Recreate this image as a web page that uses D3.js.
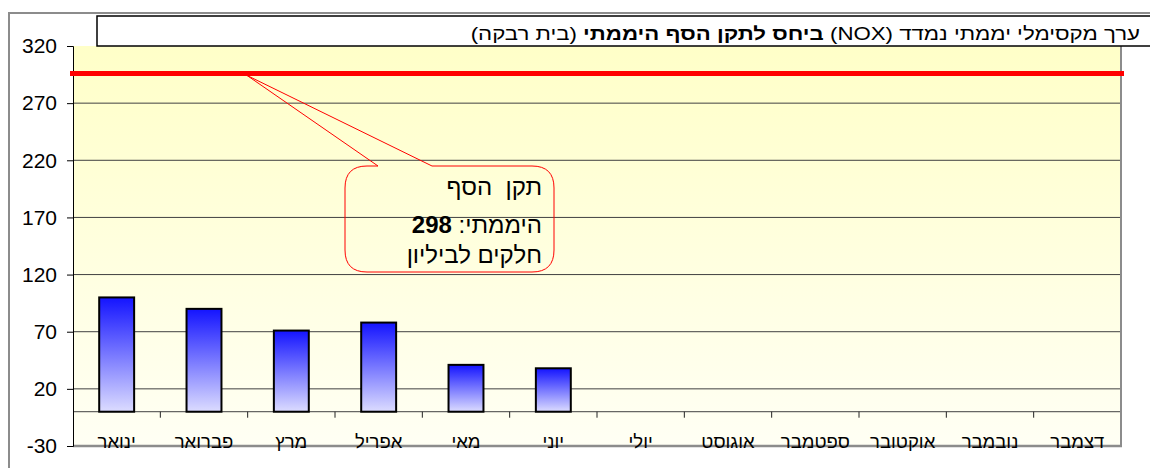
<!DOCTYPE html>
<html lang="he">
<head>
<meta charset="utf-8">
<title>NOX</title>
<script src="https://cdn.jsdelivr.net/npm/d3@7"></script>
<style>
  body { margin: 0; background: #fff; }
  svg { font-family: Arial, "Liberation Sans", sans-serif; }
</style>
</head>
<body>
<svg id="chart" width="1150" height="468"></svg>
<script>
// data
var months = ["ינואר", "פברואר", "מרץ", "אפריל", "מאי", "יוני", "יולי", "אוגוסט", "ספטמבר", "אוקטובר", "נובמבר", "דצמבר"];
var maxValues = [100, 90, 71, 78, 41, 38, null, null, null, null, null, null];
var yTicks = [-30, 20, 70, 120, 170, 220, 270, 320];
var standardValue = 296;   // line as drawn; callout says 298
var calloutLines = ["תקן  הסף", "היממתי: ", "חלקים לביליון"];

var svg = d3.select("#chart");
// plot box (note: "top" is reserved on window, so use pTop etc.)
var pLeft = 73, pRight = 1121, pTop = 46, pBottom = 446;

var x = d3.scaleBand().domain(months).range([pLeft, pRight]).paddingInner(0.6).paddingOuter(0.3);
var xEdge = d3.scaleLinear().domain([0, months.length]).range([pLeft, pRight]);
var y = d3.scaleLinear().domain([-30, 320]).range([pBottom, pTop]);

var defs = svg.append("defs");
var bg = defs.append("linearGradient").attr("id", "bg").attr("x1", 0).attr("y1", 0).attr("x2", 0).attr("y2", 1);
bg.append("stop").attr("offset", "0%").attr("stop-color", "#ffffc8");
bg.append("stop").attr("offset", "100%").attr("stop-color", "#fffff4");
var bar = defs.append("linearGradient").attr("id", "bar").attr("x1", 0).attr("y1", 0).attr("x2", 0).attr("y2", 1);
bar.append("stop").attr("offset", "0%").attr("stop-color", "#1414ff");
bar.append("stop").attr("offset", "100%").attr("stop-color", "#dcdcff");

// outer frame
svg.append("rect").attr("x", 9).attr("y", 13).attr("width", 1160).attr("height", 480)
  .attr("fill", "#fff").attr("stroke", "#8c8c8c").attr("stroke-width", 2);

// plot area
svg.append("rect").attr("x", pLeft).attr("y", pTop).attr("width", pRight - pLeft).attr("height", pBottom - pTop)
  .attr("fill", "url(#bg)");

// gridlines
svg.append("g").selectAll("line").data(yTicks.filter(function (d) { return d > -30 && d < 320; }))
  .join("line")
  .attr("x1", pLeft).attr("x2", pRight)
  .attr("y1", function (d) { return y(d); }).attr("y2", function (d) { return y(d); })
  .attr("stroke", "#404040").attr("stroke-width", 1);

// category axis at zero
svg.append("line").attr("x1", pLeft).attr("x2", pRight).attr("y1", y(0)).attr("y2", y(0))
  .attr("stroke", "#404040").attr("stroke-width", 1);
svg.append("g").selectAll("line").data(d3.range(1, months.length + 1)).join("line")
  .attr("x1", function (d) { return xEdge(d); }).attr("x2", function (d) { return xEdge(d); })
  .attr("y1", y(0)).attr("y2", y(0) + 6)
  .attr("stroke", "#222").attr("stroke-width", 1);

// plot border right / bottom
svg.append("line").attr("x1", pRight).attr("x2", pRight).attr("y1", pTop).attr("y2", pBottom)
  .attr("stroke", "#8c8c8c").attr("stroke-width", 2);
svg.append("line").attr("x1", pLeft).attr("x2", pRight + 1).attr("y1", pBottom).attr("y2", pBottom)
  .attr("stroke", "#8c8c8c").attr("stroke-width", 2.5);

// y axis
var yAxis = d3.axisLeft(y).tickValues(yTicks).tickSize(6).tickPadding(10)
  .tickFormat(function (d) { return String(d); });
var gy = svg.append("g").attr("transform", "translate(" + pLeft + ",0)").call(yAxis);
gy.attr("font-size", null).attr("font-family", null);
gy.select(".domain").attr("stroke", "#000");
gy.selectAll(".tick line").attr("stroke", "#000");
gy.selectAll("text").style("font-size", "21px").attr("fill", "#000");

// bars
svg.append("g").selectAll("rect").data(months.map(function (m, i) { return { m: m, v: maxValues[i] }; })
    .filter(function (d) { return d.v != null; }))
  .join("rect")
  .attr("x", function (d) { return x(d.m); })
  .attr("width", x.bandwidth())
  .attr("y", function (d) { return y(d.v); })
  .attr("height", function (d) { return y(0) - y(d.v); })
  .attr("fill", "url(#bar)").attr("stroke", "#000").attr("stroke-width", 2);

// month labels
svg.append("g").selectAll("text").data(months).join("text")
  .attr("x", function (d) { return x(d) + x.bandwidth() / 2; })
  .attr("y", 448)
  .attr("text-anchor", "middle")
  .attr("font-size", 18.5)
  .text(function (d) { return d; });

// standard line
svg.append("line").attr("x1", pLeft - 3).attr("x2", pRight + 3)
  .attr("y1", y(standardValue)).attr("y2", y(standardValue))
  .attr("stroke", "#ff0000").attr("stroke-width", 5);

// callout
var bx = 345, by = 166, bw = 209, bh = 106, r = 22;
var tipX = 247, tipY = y(standardValue) + 2;
var p = d3.path();
p.moveTo(bx + r, by);
p.lineTo(378, by);
p.lineTo(tipX, tipY);
p.lineTo(432, by);
p.lineTo(bx + bw - r, by);
p.quadraticCurveTo(bx + bw, by, bx + bw, by + r);
p.lineTo(bx + bw, by + bh - r);
p.quadraticCurveTo(bx + bw, by + bh, bx + bw - r, by + bh);
p.lineTo(bx + r, by + bh);
p.quadraticCurveTo(bx, by + bh, bx, by + bh - r);
p.lineTo(bx, by + r);
p.quadraticCurveTo(bx, by, bx + r, by);
svg.append("path").attr("d", p.toString()).attr("fill", "none").attr("stroke", "#ff0000").attr("stroke-width", 1);

var ct = svg.append("g").attr("font-size", 24).attr("direction", "rtl");
ct.append("text").attr("x", 542).attr("y", 195).attr("text-anchor", "start").attr("xml:space", "preserve").text(calloutLines[0]);
var l2 = ct.append("text").attr("x", 542).attr("y", 233).attr("text-anchor", "start");
l2.append("tspan").text(calloutLines[1]);
l2.append("tspan").attr("font-weight", "bold").text("298");
ct.append("text").attr("x", 542).attr("y", 263).attr("text-anchor", "start").text(calloutLines[2]);

// title box
svg.append("rect").attr("x", 97).attr("y", 16).attr("width", 1100).attr("height", 30)
  .attr("fill", "#fff").attr("stroke", "#000").attr("stroke-width", 1.5);
var title = svg.append("text").attr("x", 1140).attr("y", 40).attr("font-size", 18)
  .attr("direction", "rtl").attr("text-anchor", "start").attr("xml:space", "preserve");
title.append("tspan").text("ערך מקסימלי יממתי נמדד (NOX) ");
title.append("tspan").attr("font-weight", "bold").text("ביחס לתקן הסף היממתי");
title.append("tspan").text(" (בית רבקה)");
// reference title runs from about x=470 to 1140: stretch to fit
var tw = title.node().getBBox().width;
var sx = 670 / tw;
title.attr("transform", "translate(" + (1140 * (1 - sx)) + ",0) scale(" + sx + ",1)");
</script>
</body>
</html>
